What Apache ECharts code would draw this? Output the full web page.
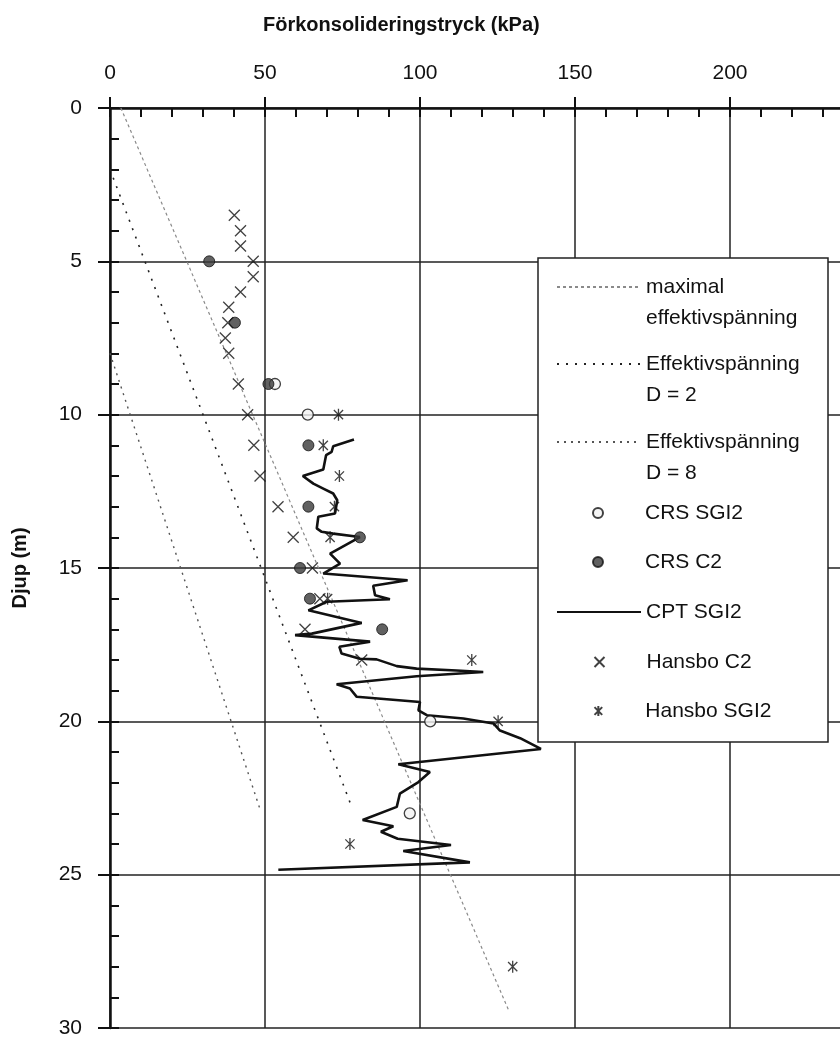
<!DOCTYPE html>
<html><head><meta charset="utf-8">
<script src="https://cdn.jsdelivr.net/npm/echarts@6/dist/echarts.min.js"></script>
<style>html,body{margin:0;padding:0;background:#fff}#c{width:840px;height:1045px}</style>
</head><body><div id="c"></div>
<script>
// ---- data (x = förkonsolideringstryck kPa, y = djup m) ----
const xTickValues = [0, 50, 100, 150, 200, 250];
const yTickValues = [0, 5, 10, 15, 20, 25, 30];

const maxEffX = [3.5, 128.5];
const maxEffY = [0, 29.4];
const effD2X = [0, 78];
const effD2Y = [2, 22.8];
const effD8X = [0, 48.5];
const effD8Y = [8, 22.9];

const crsSgi2X = [53.2, 63.8, 103.3, 96.7];
const crsSgi2Y = [9, 10, 20, 23];

const crsC2X = [32.0, 40.3, 51.1, 64.0, 64.0, 80.6, 61.3, 64.5, 87.8];
const crsC2Y = [5, 7, 9, 11, 13, 14, 15, 16, 17];

const cptX = [78.7, 72.0, 71.5, 69.7, 68.8, 62.2, 65.6, 68.8, 72.0, 73.3, 72.6, 67.2, 66.7, 68.3, 72.0, 80.6,
  71.0, 74.2, 68.8, 96.0, 84.9, 85.5, 90.3, 69.9, 64.0, 81.2, 65.1, 59.7, 83.9, 74.0, 74.7, 80.6, 86.0,
  92.5, 98.9, 111.8, 120.4, 98.9, 73.1, 77.4, 79.6, 100.0, 99.5, 102.2, 114.0, 123.7, 125.8, 132.3, 139.0,
  93.0, 103.2, 99.5, 93.5, 92.5, 81.5, 91.4, 87.4, 92.8, 110.0, 94.6, 116.1, 54.3];
const cptY = [10.81, 11.03, 11.21, 11.32, 11.79, 12.0, 12.25, 12.41, 12.57, 12.79, 13.22, 13.33, 13.71, 13.82, 13.88, 13.99,
  14.53, 14.86, 15.18, 15.4, 15.58, 15.89, 16.02, 16.1, 16.38, 16.79, 17.14, 17.19, 17.4, 17.57, 17.79, 17.96, 17.98,
  18.2, 18.28, 18.34, 18.39, 18.53, 18.79, 18.93, 19.2, 19.37, 19.64, 19.8, 19.91, 20.07, 20.3, 20.55, 20.9,
  21.4, 21.65, 21.98, 22.36, 22.79, 23.22, 23.42, 23.6, 23.83, 24.03, 24.23, 24.6, 24.84];

const hansboC2X = [40.1, 42.1, 42.1, 46.2, 46.2, 42.1, 38.3, 38.0, 37.2, 38.3, 41.4, 44.4, 46.4, 48.4, 54.2, 59.1, 65.3, 67.7, 62.9, 81.2];
const hansboC2Y = [3.5, 4, 4.5, 5, 5.5, 6, 6.5, 7, 7.5, 8, 9, 10, 11, 12, 13, 14, 15, 16, 17, 18];

const hansboSgi2X = [73.7, 68.8, 74.0, 72.4, 71.0, 70.2, 116.7, 125.2, 77.4, 129.9];
const hansboSgi2Y = [10, 11, 12, 13, 14, 16, 18, 20, 24, 28];

const seriesNames = ['maximal effektivspänning', 'Effektivspänning D = 2', 'Effektivspänning D = 8',
  'CRS SGI2', 'CRS C2', 'CPT SGI2', 'Hansbo C2', 'Hansbo SGI2'];

// ---- helpers ----
const zip = (xs, ys) => xs.map((x, i) => [x, ys[i]]);
const FONT = '"Liberation Sans", Arial, sans-serif';
const crossPath = 'path://M0,0L10,10M10,0L0,10';
const starPath = 'path://M0,0L10,10M10,0L0,10M5,-1.5L5,11.5';

const chart = echarts.init(document.getElementById('c'), null, {renderer: 'canvas'});

// legend layout: icon centre y for each entry
const legendIconY = [287, 364, 442, 513, 562, 612, 662, 711];
const twoLine = [true, true, true, false, false, false, false, false];
const legendIcons = [null, null, null, 'circle', 'circle', null, crossPath, starPath];
const isLineSeries = [true, true, true, false, false, true, false, false];
const legendLabels = {
  'maximal effektivspänning': '\nmaximal\neffektivspänning',
  'Effektivspänning D = 2': '\nEffektivspänning\nD = 2',
  'Effektivspänning D = 8': '\nEffektivspänning\nD = 8'
};
const legends = seriesNames.map((n, i) => {
  const item = {name: n};
  if (legendIcons[i]) item.icon = legendIcons[i];
  const lg = {
    data: [item],
    left: isLineSeries[i] ? 556 : 592,
    top: legendIconY[i] - (twoLine[i] ? 46.5 : 15.5),
    orient: 'vertical',
    padding: 0,
    itemWidth: 84,
    itemHeight: 10,
    selectedMode: false,
    z: 10,
    formatter: (name) => legendLabels[name] || name,
    textStyle: {fontSize: 21, lineHeight: 31, color: '#111', fontFamily: FONT}
  };
  if (isLineSeries[i]) lg.itemStyle = {opacity: 0};
  return lg;
});

const option = {
  backgroundColor: '#fff',
  animation: false,
  title: {
    text: 'Förkonsolideringstryck (kPa)',
    left: 258, top: 10,
    textStyle: {fontSize: 20, fontWeight: 'bold', color: '#111', fontFamily: FONT}
  },
  grid: {left: 110, top: 108, width: 775, height: 920, outerBoundsMode: 'none', containLabel: false},
  legend: legends,
  graphic: [{
    type: 'rect', z: 5,
    shape: {x: 538, y: 258, width: 290, height: 484},
    style: {fill: '#fff', stroke: '#222', lineWidth: 1.5}
  }],
  xAxis: [{
    type: 'value', position: 'top', min: 0, max: 250, interval: 50,
    axisLine: {show: true, onZero: false, lineStyle: {color: '#111', width: 2.5}},
    axisTick: {show: true, inside: false, length: 11, lineStyle: {color: '#111', width: 2}},
    axisLabel: {fontSize: 21, color: '#111', fontFamily: FONT, margin: 24},
    splitLine: {show: true, lineStyle: {color: '#222', width: 1.5}}
  }, {
    type: 'value', position: 'top', min: 0, max: 250, interval: 10,
    axisLine: {show: false},
    axisTick: {show: true, inside: true, length: 9, lineStyle: {color: '#111', width: 2}},
    axisLabel: {show: false},
    splitLine: {show: false}
  }],
  yAxis: [{
    type: 'value', inverse: true, position: 'left', min: 0, max: 30, interval: 5,
    name: 'Djup (m)', nameLocation: 'middle', nameGap: 80,
    nameTextStyle: {fontSize: 20, fontWeight: 'bold', color: '#111', fontFamily: FONT},
    axisLine: {show: true, onZero: false, lineStyle: {color: '#111', width: 2.5}},
    axisTick: {show: true, inside: false, length: 12, lineStyle: {color: '#111', width: 2}},
    axisLabel: {fontSize: 21, color: '#111', fontFamily: FONT, margin: 28},
    splitLine: {show: true, lineStyle: {color: '#222', width: 1.5}}
  }, {
    type: 'value', inverse: true, position: 'left', min: 0, max: 30, interval: 1,
    axisLine: {show: false},
    axisTick: {show: true, inside: true, length: 9, lineStyle: {color: '#111', width: 2}},
    axisLabel: {show: false},
    splitLine: {show: false}
  }],
  series: [
    {name: seriesNames[0], type: 'line', data: zip(maxEffX, maxEffY), symbol: 'none', z: 2,
     itemStyle: {color: '#8a8a8a'},
     lineStyle: {color: '#8a8a8a', width: 1.2, type: [3, 3]}},
    {name: seriesNames[1], type: 'line', data: zip(effD2X, effD2Y), symbol: 'none', z: 2,
     itemStyle: {color: '#222'},
     lineStyle: {color: '#222', width: 1.6, type: [2, 7]}},
    {name: seriesNames[2], type: 'line', data: zip(effD8X, effD8Y), symbol: 'none', z: 2,
     itemStyle: {color: '#555'},
     lineStyle: {color: '#555', width: 1.4, type: [2, 5]}},
    {name: seriesNames[3], type: 'scatter', data: zip(crsSgi2X, crsSgi2Y), symbol: 'circle', symbolSize: 11, z: 3,
     itemStyle: {color: '#f2f2f2', borderColor: '#111', borderWidth: 1.3}},
    {name: seriesNames[4], type: 'scatter', data: zip(crsC2X, crsC2Y), symbol: 'circle', symbolSize: 11, z: 3,
     itemStyle: {color: '#3a3a3a', borderColor: '#111', borderWidth: 1}},
    {name: seriesNames[5], type: 'line', data: zip(cptX, cptY), symbol: 'none', z: 2,
     itemStyle: {color: '#111'},
     lineStyle: {color: '#111', width: 2.6}},
    {name: seriesNames[6], type: 'scatter', data: zip(hansboC2X, hansboC2Y), symbol: crossPath, symbolSize: 11,
     symbolKeepAspect: true, z: 3,
     itemStyle: {color: 'none', borderColor: '#111', borderWidth: 1.3}},
    {name: seriesNames[7], type: 'scatter', data: zip(hansboSgi2X, hansboSgi2Y), symbol: starPath, symbolSize: 12,
     symbolKeepAspect: true, z: 3,
     itemStyle: {color: 'none', borderColor: '#111', borderWidth: 1.3}}
  ]
};
chart.setOption(option);
</script>
</body></html>
